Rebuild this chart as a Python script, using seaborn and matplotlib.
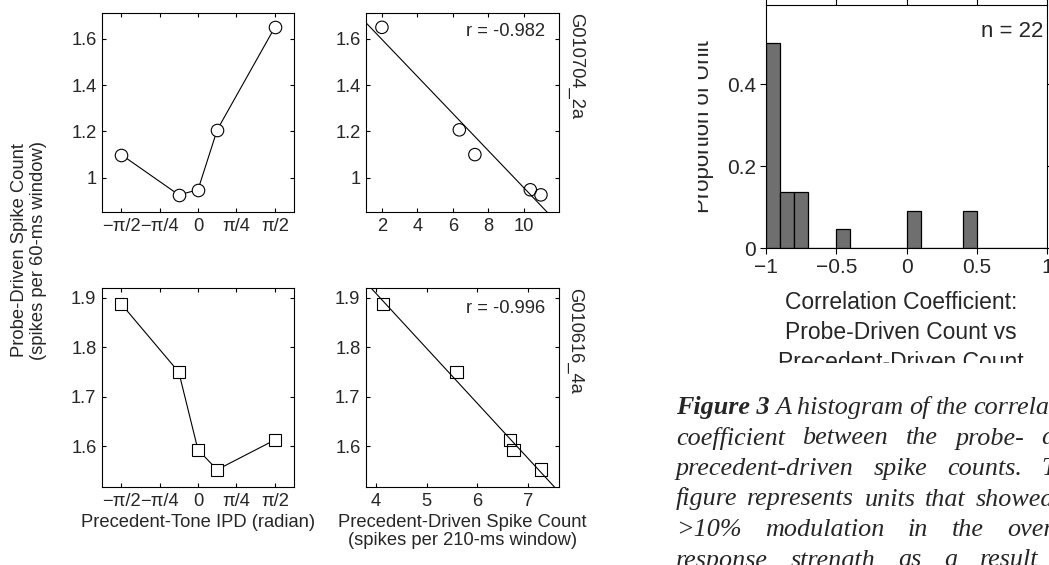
import numpy as np
import pandas as pd
import matplotlib
matplotlib.use("Agg")
import matplotlib.pyplot as plt
import seaborn as sns
from matplotlib.transforms import Bbox, TransformedBbox

# precedent-tone IPD (radian), shared by both units
ipd = np.array([-np.pi / 2, -np.pi / 8, 0.0, np.pi / 8, np.pi / 2])

# unit G010704_2a (top row), listed in IPD order
probe_2a = [1.100, 0.926, 0.948, 1.207, 1.650]
prec_2a = [7.25, 10.98, 10.38, 6.37, 2.00]
r_2a = "r = -0.982"

# unit G010616_4a (bottom row), listed in IPD order
probe_4a = [1.888, 1.750, 1.593, 1.553, 1.613]
prec_4a = [4.13, 5.59, 6.71, 7.26, 6.64]
r_4a = "r = -0.996"

# histogram of correlation coefficients (bins of width 0.1)
corr_bin_left = [-1.0, -0.9, -0.8, -0.5, 0.0, 0.4]
corr_unit_counts = [11, 3, 3, 1, 2, 2]
n_units = 22

ipd_ticks = [-np.pi / 2, -np.pi / 4, 0, np.pi / 4, np.pi / 2]
ipd_ticklabels = ["\u2212\u03c0/2", "\u2212\u03c0/4", "0", "\u03c0/4", "\u03c0/2"]
top_yticks = [1.0, 1.2, 1.4, 1.6]
top_yticklabels = ["1", "1.2", "1.4", "1.6"]
bot_yticks = [1.6, 1.7, 1.8, 1.9]
bot_yticklabels = ["1.6", "1.7", "1.8", "1.9"]
hist_xticks = [-1, -0.5, 0, 0.5, 1]
hist_xticklabels = ["\u22121", "\u22120.5", "0", "0.5", "1"]
hist_yticks = [0, 0.2, 0.4]
hist_yticklabels = ["0", "0.2", "0.4"]

caption_lines = [
    ["Figure 3", "A histogram", "of", "the", "correlation"],
    ["coefficient", "between", "the", "probe-", "and"],
    ["precedent-driven", "spike", "counts.", "The"],
    ["figure", "represents", "units", "that", "showed", "a"],
    [">10%", "modulation", "in", "the", "overall"],
    ["response", "strength", "as", "a", "result", "of"],
]
# None = justified to the column edge, otherwise word gap in em
caption_gap = [0.22, None, None, 0.38, None, None]

sns.set_style("ticks")
plt.rcParams["font.family"] = ["Liberation Sans", "DejaVu Sans"]
plt.rcParams["axes.edgecolor"] = "black"
plt.rcParams["axes.linewidth"] = 0.8

W, H = 1049, 565
fig = plt.figure(figsize=(W / 100, H / 100), dpi=100)

SMALL = 13.2


def px_axes(left, top, right, bottom):
    return fig.add_axes([left / W, 1 - bottom / H, (right - left) / W, (bottom - top) / H])


def style_small(ax):
    ax.tick_params(direction="in", top=True, right=True, length=3, width=0.8,
                   labelsize=SMALL, color="black", pad=4)


ax1 = px_axes(102, 13, 294, 212)
ax2 = px_axes(366, 13, 559, 212)
ax3 = px_axes(102, 288, 294, 487)
ax4 = px_axes(366, 288, 559, 487)
axh = px_axes(766, 5, 1047, 248)

line_kw = dict(color="black", linewidth=0.8, markersize=9, markerfacecolor="white",
               markeredgecolor="black", markeredgewidth=0.8)

# IPD tuning curves
sns.lineplot(x=ipd, y=probe_2a, marker="o", ax=ax1, **line_kw)
sns.lineplot(x=ipd, y=probe_4a, marker="s", ax=ax3, **line_kw)
for ax in (ax1, ax3):
    ax.set_xlim(-5 * np.pi / 8, 5 * np.pi / 8)
    ax.set_xticks(ipd_ticks)
    ax.set_xticklabels(ipd_ticklabels)

# probe vs precedent regressions
ax2.set_xlim(1.1, 12.0)
ax4.set_xlim(3.8, 7.61)
sns.regplot(x=prec_2a, y=probe_2a, ci=None, truncate=False, marker="o", ax=ax2,
            scatter_kws=dict(s=80, facecolors="none", edgecolors="black", linewidths=0.8, alpha=1),
            line_kws=dict(color="black", linewidth=0.8))
sns.regplot(x=prec_4a, y=probe_4a, ci=None, truncate=False, marker="s", ax=ax4,
            scatter_kws=dict(s=80, facecolors="none", edgecolors="black", linewidths=0.8, alpha=1),
            line_kws=dict(color="black", linewidth=0.8))
ax2.set_xticks([2, 4, 6, 8, 10])
ax4.set_xticks([4, 5, 6, 7])

for ax in (ax1, ax2):
    ax.set_ylim(0.852, 1.712)
    ax.set_yticks(top_yticks)
    ax.set_yticklabels(top_yticklabels)
for ax in (ax3, ax4):
    ax.set_ylim(1.518, 1.92)
    ax.set_yticks(bot_yticks)
    ax.set_yticklabels(bot_yticklabels)
for ax in (ax1, ax2, ax3, ax4):
    style_small(ax)

ax2.text(0.927, 0.905, r_2a, transform=ax2.transAxes, ha="right", va="center", fontsize=SMALL)
ax4.text(0.927, 0.896, r_4a, transform=ax4.transAxes, ha="right", va="center", fontsize=SMALL)
ax2.text(1.085, 1.0, "G010704_2a", transform=ax2.transAxes, rotation=270,
         ha="center", va="top", fontsize=SMALL)
ax4.text(1.08, 1.0, "G010616_4a", transform=ax4.transAxes, rotation=270,
         ha="center", va="top", fontsize=SMALL)

ax3.set_xlabel("Precedent-Tone IPD (radian)", fontsize=SMALL, labelpad=3)
ax4.set_xlabel("Precedent-Driven Spike Count\n(spikes per 210-ms window)", fontsize=SMALL,
               labelpad=3, linespacing=1.1)
fig.text(29 / W, 1 - 250 / H, "Probe-Driven Spike Count\n(spikes per 60-ms window)",
         rotation=90, ha="center", va="center", fontsize=SMALL, linespacing=1.2)

# histogram
hist_df = pd.DataFrame({
    "corr": np.array(corr_bin_left) + 0.05,
    "prop": np.array(corr_unit_counts) / n_units,
})
sns.histplot(data=hist_df, x="corr", weights="prop", binwidth=0.1, binrange=(-1, 1),
             color="#6f6f6f", edgecolor="black", linewidth=0.9, alpha=1, ax=axh)
axh.set_xlim(-1, 1)
axh.set_ylim(0, 0.593)
axh.set_xticks(hist_xticks)
axh.set_xticklabels(hist_xticklabels)
axh.set_yticks(hist_yticks)
axh.set_yticklabels(hist_yticklabels)
axh.set_xlabel("")
axh.set_ylabel("")
axh.tick_params(direction="out", top=True, right=True, length=4, width=0.8,
                labelsize=15, color="black", pad=3)
axh.text(0.986, 0.889, "n = %d" % n_units, transform=axh.transAxes, ha="right",
         va="center", fontsize=16)

clip_left = TransformedBbox(Bbox([[698 / W, 0], [1, 1]]), fig.transFigure)
t = fig.text(704 / W, 1 - 127 / H, "Proportion of Unit", rotation=90, ha="center",
             va="center", fontsize=16)
t.set_clip_box(clip_left)
t.set_clip_on(True)

clip_top = TransformedBbox(Bbox([[0, 1 - 363 / H], [1, 1]]), fig.transFigure)
for i, s in enumerate(["Correlation Coefficient:", "Probe-Driven Count vs",
                       "Precedent-Driven Count"]):
    tx = fig.text(901 / W, 1 - (309 + 30 * i) / H, s, ha="center", va="baseline",
                  fontsize=16.5)
    tx.set_clip_box(clip_top)
    tx.set_clip_on(True)

# caption, laid out word by word
renderer = fig.canvas.get_renderer()
cap_left, cap_right, cap_size = 676, 1081, 18.8
for li, words in enumerate(caption_lines):
    y = 1 - (414 + 30.5 * li) / H
    items = []
    for wi, w in enumerate(words):
        bold = li == 0 and wi == 0
        tw = fig.text(0, y, w, family=["Liberation Serif", "DejaVu Serif"], style="italic",
                      weight="bold" if bold else "normal", fontsize=cap_size, va="baseline")
        items.append(tw)
    widths = [it.get_window_extent(renderer).width for it in items]
    if caption_gap[li] is None:
        gap = (cap_right - cap_left - sum(widths)) / (len(items) - 1)
    else:
        gap = cap_size * 100 / 72 * caption_gap[li]
    x = cap_left
    for it, wd in zip(items, widths):
        it.set_x(x / W)
        x += wd + gap

fig.savefig("out.png", dpi=100)
